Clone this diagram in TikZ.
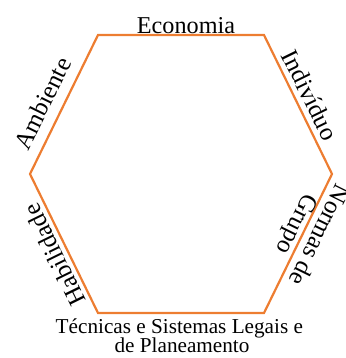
\documentclass[tikz,border=0pt]{standalone}
\usepackage{fontspec}
\setmainfont{Liberation Serif}
\definecolor{hexorange}{RGB}{237,125,49}
\begin{document}
\begin{tikzpicture}[x=1pt,y=-1pt,
  lbl/.style={inner sep=0pt, font=\fontsize{25}{25}\selectfont},
  hexline/.style={draw=hexorange, line width=2.2pt, line join=miter}]
\useasboundingbox (0,0) rectangle (345,358);
\coordinate (A) at (98,35);
\coordinate (B) at (264,35);
\coordinate (C) at (332,174);
\coordinate (D) at (264,313);
\coordinate (E) at (98,313);
\coordinate (F) at (30,174);
\draw[hexline] (A) -- (B) -- (C) -- (D) -- (E) -- (F) -- cycle;
\node[inner sep=0pt, anchor=base, font=\fontsize{24.2}{24}\selectfont] (eco) at (186,34) {Economia};
\node[lbl, rotate=-63.8] (ind) at (310,95) {Indivíduo};
\node[lbl, rotate=63.8] (amb) at (42.5,103.5) {Ambiente};
\node[lbl, rotate=116.2] (hab) at (54.5,255) {Habilidade};
\node[lbl, rotate=-116.2, align=center] (nor) at (307,229) {Normas de\\Grupo};
\node[inner sep=0pt, anchor=base, align=center, font=\fontsize{21.2}{19.3}\selectfont] (tec) at (182,352.5) {Técnicas e Sistemas Legais e\hspace*{0.25em}\\de Planeamento};
\end{tikzpicture}
\end{document}
